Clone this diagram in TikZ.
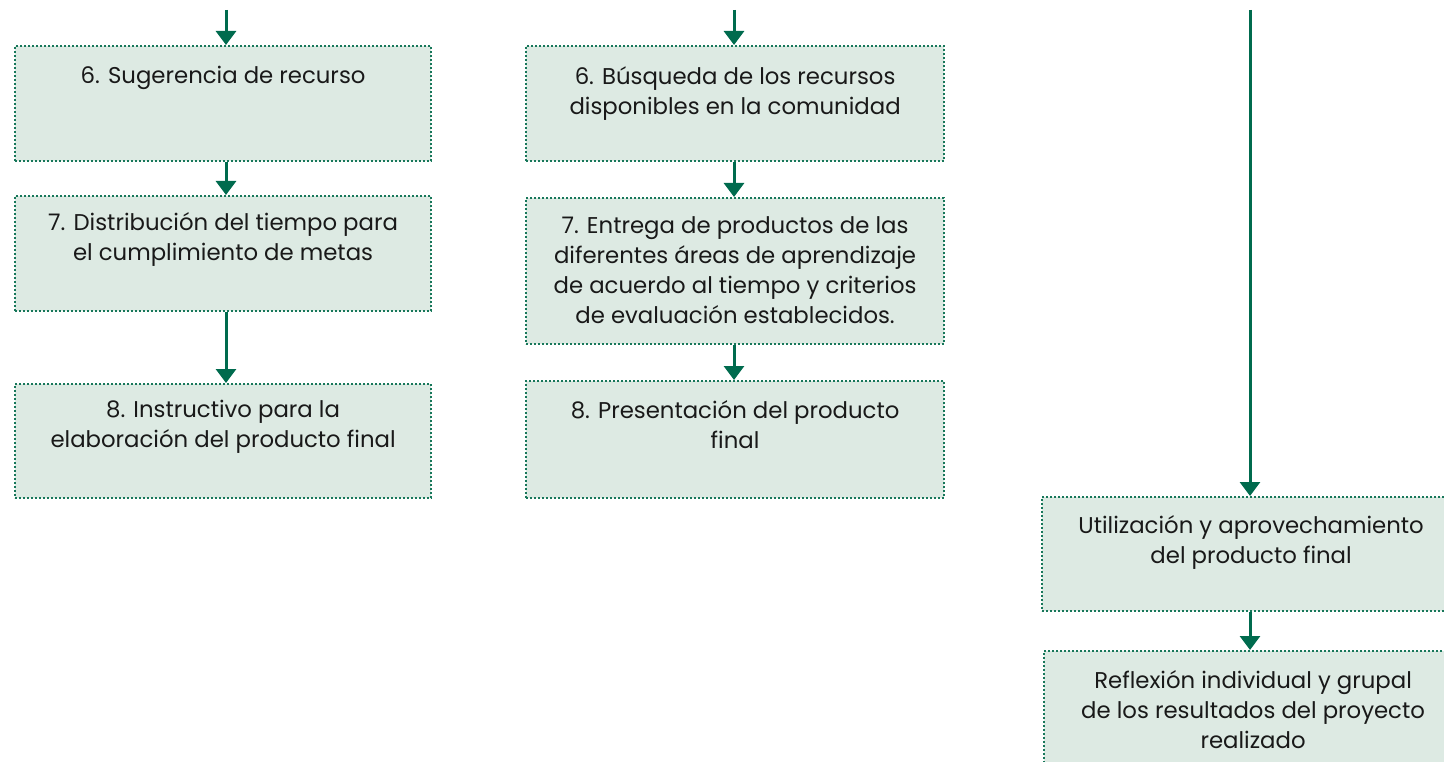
\documentclass[tikz,border=0pt]{standalone}
\usepackage{fontspec}
\setmainfont{Poppins}
\usetikzlibrary{arrows.meta}
\definecolor{boxfill}{HTML}{DDEAE3}
\definecolor{boxline}{HTML}{17775A}
\definecolor{arrowcol}{HTML}{006B4E}
\tikzset{
  stepbox/.style={draw=boxline, fill=boxfill, line width=2.2pt,
    dash pattern=on 2pt off 2pt, rectangle, inner sep=0pt, anchor=north west},
  steptext/.style={anchor=north, inner sep=0pt, align=center,
    font=\fontsize{22.8}{30}\selectfont, text=black!90},
  flow/.style={draw=arrowcol, line width=3pt,
    -{Triangle[width=20pt,length=14pt]}},
}
\begin{document}
\begin{tikzpicture}[x=1pt,y=-1pt]
\useasboundingbox (0,0) rectangle (1444,762);
\clip (0,0) rectangle (1444,762);
% left column
\node[stepbox, minimum width=416pt, minimum height=115pt] (L1) at (14,45) {};
\node[stepbox, minimum width=416pt, minimum height=115pt] (L2) at (14,195) {};
\node[stepbox, minimum width=416pt, minimum height=114pt] (L3) at (14,383) {};
% middle column
\node[stepbox, minimum width=418pt, minimum height=115pt] (M1) at (525,45) {};
\node[stepbox, minimum width=418pt, minimum height=146pt] (M2) at (525,197) {};
\node[stepbox, minimum width=418pt, minimum height=117pt] (M3) at (525,380) {};
% right column
\node[stepbox, minimum width=418pt, minimum height=114pt] (R1) at (1041,496) {};
\node[stepbox, minimum width=418pt, minimum height=130pt] (R2) at (1043,650) {};
% texts
\node[steptext] (tL1) at ([yshift=-21pt]L1.north) {6. Sugerencia de recurso};
\node[steptext] (tL2) at ([yshift=-17pt]L2.north) {7. Distribución del tiempo para\\el cumplimiento de metas};
\node[steptext] (tL3) at ([yshift=-17pt]L3.north) {8. Instructivo para la\\elaboración del producto final};
\node[steptext] (tM1) at ([yshift=-21pt]M1.north) {6. Búsqueda de los recursos\\disponibles en la comunidad};
\node[steptext] (tM2) at ([yshift=-19pt]M2.north) {7. Entrega de productos de las\\diferentes áreas de aprendizaje\\de acuerdo al tiempo y criterios\\de evaluación establecidos.};
\node[steptext] (tM3) at ([yshift=-20pt]M3.north) {8. Presentación del producto\\final};
\node[steptext] (tR1) at ([yshift=-19pt]R1.north) {Utilización y aprovechamiento\\del producto final};
\node[steptext] (tR2) at ([yshift=-20pt]R2.north) {Reflexión individual y grupal\\de los resultados del proyecto\\realizado};
% incoming arrows from above
\coordinate (inL) at (226,10);
\coordinate (inM) at (734,10);
\coordinate (inR) at (1250,10);
\draw[flow] (inL) -- (inL |- L1.north);
\draw[flow] (inM) -- (inM |- M1.north);
\draw[flow] (inR) -- (inR |- R1.north);
% connectors
\draw[flow] (inL |- L1.south) -- (inL |- L2.north);
\draw[flow] (inL |- L2.south) -- (inL |- L3.north);
\draw[flow] (inM |- M1.south) -- (inM |- M2.north);
\draw[flow] (inM |- M2.south) -- (inM |- M3.north);
\draw[flow] (inR |- R1.south) -- (inR |- R2.north);
\end{tikzpicture}
\end{document}
